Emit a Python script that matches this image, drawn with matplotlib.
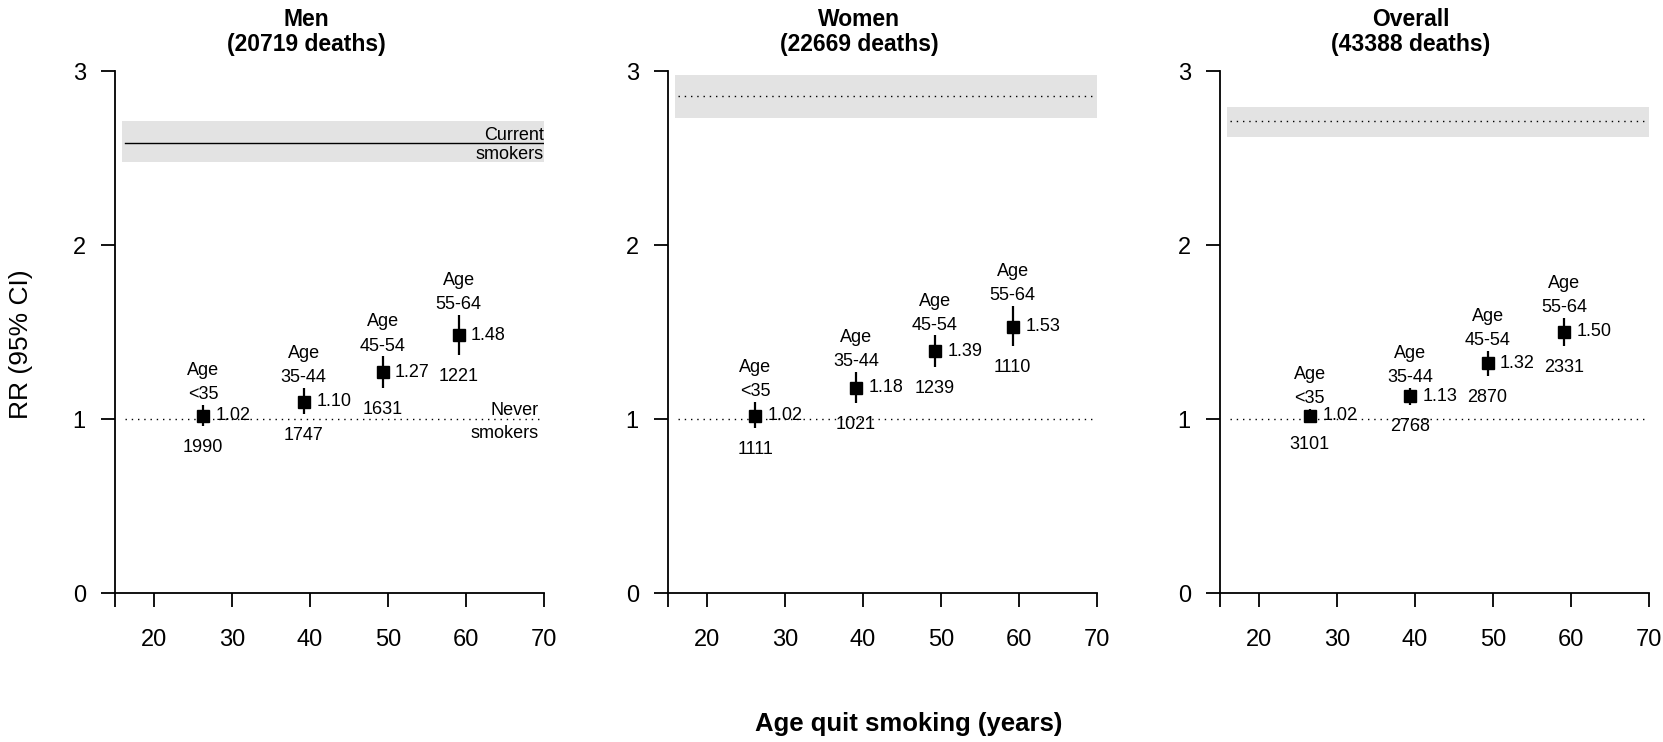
import matplotlib
matplotlib.use("Agg")
import matplotlib.pyplot as plt
import matplotlib.patches as mpatches
import numpy as np

plt.rcParams['font.family'] = ['Liberation Sans', 'DejaVu Sans']

panels = ["Men", "Women", "Overall"]
deaths_total = [20719, 22669, 43388]
age_groups = ["Age\n<35", "Age\n35-44", "Age\n45-54", "Age\n55-64"]

# mean age at quitting (x), RR and 95% CI, deaths in each group
quit_age = {
    "Men": [26.3, 39.2, 49.3, 59.05],
    "Women": [26.2, 39.1, 49.2, 59.2],
    "Overall": [26.5, 39.4, 49.3, 59.1],
}
rr = {
    "Men": [1.02, 1.10, 1.27, 1.48],
    "Women": [1.02, 1.18, 1.39, 1.53],
    "Overall": [1.02, 1.13, 1.32, 1.50],
}
ci_lo = {
    "Men": [0.96, 1.03, 1.18, 1.37],
    "Women": [0.95, 1.09, 1.30, 1.42],
    "Overall": [0.98, 1.08, 1.25, 1.42],
}
ci_hi = {
    "Men": [1.08, 1.18, 1.36, 1.60],
    "Women": [1.10, 1.27, 1.48, 1.65],
    "Overall": [1.06, 1.18, 1.39, 1.58],
}
deaths = {
    "Men": [1990, 1747, 1631, 1221],
    "Women": [1111, 1021, 1239, 1110],
    "Overall": [3101, 2768, 2870, 2331],
}
# current smokers RR and CI band
cur_rr = {"Men": 2.585, "Women": 2.854, "Overall": 2.713}
cur_lo = {"Men": 2.477, "Women": 2.732, "Overall": 2.622}
cur_hi = {"Men": 2.714, "Women": 2.976, "Overall": 2.793}

W, H = 1663, 742
fig = plt.figure(figsize=(W / 100, H / 100), dpi=100)

lefts = [115, 668, 1220]
for i, name in enumerate(panels):
    ax = fig.add_axes([lefts[i] / W, (H - 593) / H, 429 / W, 522 / H])
    ax.set_xlim(15, 70)
    ax.set_ylim(0, 3)
    for s in ["top", "right"]:
        ax.spines[s].set_visible(False)
    for s in ["left", "bottom"]:
        ax.spines[s].set_linewidth(1.3)
    ax.set_yticks([0, 1, 2, 3])
    ax.set_xticks([15, 20, 30, 40, 50, 60, 70])
    ax.set_xticklabels(["", "20", "30", "40", "50", "60", "70"])
    ax.tick_params(axis="y", length=10, width=1.3, labelsize=17, pad=11)
    ax.tick_params(axis="x", length=10, width=1.3, labelsize=17, pad=16)

    # current smokers band
    ax.add_patch(mpatches.Rectangle((15.9, cur_lo[name]), 70 - 15.9,
                                    cur_hi[name] - cur_lo[name],
                                    facecolor="#e3e3e3", edgecolor="none", zorder=0))
    if name == "Men":
        ax.plot([16.3, 70], [cur_rr[name]] * 2, color="black", lw=1.0)
        ax.text(69.95, cur_rr[name] - 0.01, "Current\nsmokers", ha="right",
                va="center", fontsize=13, linespacing=1.15, clip_on=True)
        ax.text(69.3, 0.985, "Never\nsmokers", ha="right", va="center",
                fontsize=13, linespacing=1.45, multialignment="right")
    else:
        ax.plot([16.3, 70], [cur_rr[name]] * 2, color="black", lw=1.0,
                linestyle=(0, (1, 3.5)))

    # never smokers reference
    ax.plot([16.3, 70], [1, 1], color="black", lw=1.0, linestyle=(0, (1, 3.5)))

    x = np.array(quit_age[name])
    y = np.array(rr[name])
    lo = np.array(ci_lo[name])
    hi = np.array(ci_hi[name])
    ax.vlines(x, lo, hi, color="black", lw=1.6, zorder=3)
    ms = 9 if name != "Overall" else 8
    ax.plot(x, y, "s", color="black", ms=ms, zorder=4)
    for j in range(len(x)):
        ax.text(x[j], hi[j] + 0.01, age_groups[j], ha="center", va="bottom",
                fontsize=13, linespacing=1.55)
        ax.annotate(f"{y[j]:.2f}", (x[j], y[j]), xytext=(9, 0),
                    textcoords="offset points", ha="left", va="center",
                    fontsize=13)
        ax.text(x[j], lo[j] - 0.075, str(deaths[name][j]), ha="center",
                va="top", fontsize=13)

    ax.text(0.445, 1 + (71 - 32) / 522, f"{name}\n({deaths_total[i]} deaths)",
            transform=ax.transAxes, ha="center", va="center", fontsize=16.5,
            fontweight="bold", linespacing=1.15)

fig.text(21 / W, 1 - 344 / H, "RR (95% CI)", rotation=90, ha="center",
         va="center", fontsize=19)
fig.text(909 / W, 1 - 724 / H, "Age quit smoking (years)", ha="center",
         va="center", fontsize=18.5, fontweight="bold")

fig.savefig("out.png", dpi=100)
